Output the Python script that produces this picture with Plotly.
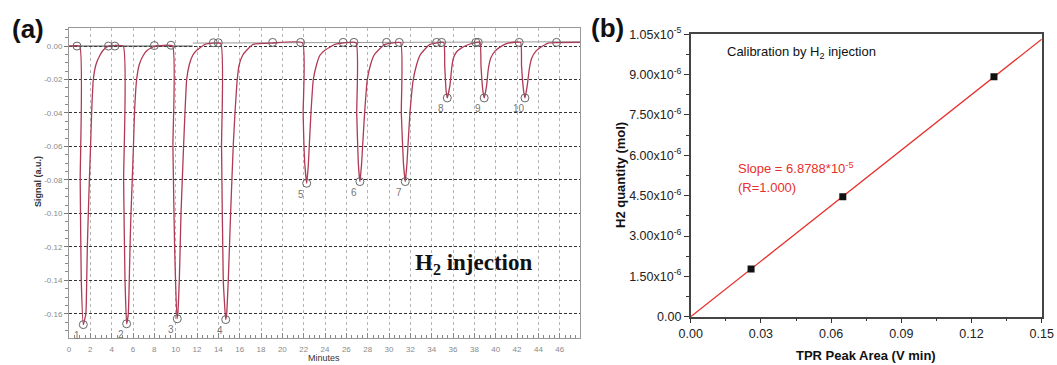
import plotly.graph_objects as go

# ---------------- Panel (a): TPR signal vs time ----------------
# signal trace (minutes, a.u.)
trace_t = [0.0,
           1.00, 1.05, 1.15, 1.34, 1.58, 1.66, 1.72, 1.81, 1.91, 2.02, 2.12, 2.28, 2.53, 2.90, 3.20, 3.70,
           5.08, 5.12, 5.25, 5.40, 5.56, 5.65, 5.72, 5.81, 5.93, 6.04, 6.14, 6.34, 6.59, 6.97, 7.34, 8.06,
           9.70, 9.74, 9.90, 10.12, 10.20, 10.34, 10.42, 10.50, 10.62, 10.74, 10.87, 11.03, 11.28, 11.60, 11.97, 12.75,
           14.22, 14.30, 14.46, 14.69, 14.78, 14.93, 15.04, 15.15, 15.27, 15.40, 15.56, 15.77, 15.96, 16.28, 16.65, 17.27, 19.00,
           21.88, 21.95, 22.10, 22.28, 22.43, 22.52, 22.68, 22.90, 23.21, 23.52, 23.99, 24.93,
           26.90, 26.97, 27.12, 27.27, 27.43, 27.52, 27.71, 27.96, 28.27, 28.59, 28.99, 29.61,
           31.08, 31.15, 31.35, 31.52, 31.68, 31.77, 31.96, 32.27, 32.59, 32.90, 33.27, 33.83,
           35.12, 35.22, 35.35, 35.46, 35.71, 35.87, 36.02, 36.34, 36.80, 37.27, 37.90,
           38.52, 38.62, 38.80, 38.92, 39.15, 39.30, 39.52, 39.93, 40.55, 41.17,
           42.33, 42.42, 42.62, 42.74, 42.96, 43.14, 43.36, 43.77, 44.40, 44.92,
           47.90]
trace_v = [0.0,
           0.0, -0.080, -0.140, -0.1665, -0.160, -0.140, -0.120, -0.100, -0.080, -0.060, -0.040, -0.020, -0.011, -0.0055, -0.0025, 0.0,
           0.0, -0.080, -0.140, -0.1660, -0.160, -0.140, -0.120, -0.100, -0.080, -0.060, -0.040, -0.020, -0.011, -0.0055, -0.0025, 0.0,
           0.0, -0.060, -0.120, -0.1630, -0.160, -0.140, -0.120, -0.100, -0.080, -0.060, -0.040, -0.020, -0.011, -0.0055, -0.0025, 0.001,
           0.0015, -0.060, -0.140, -0.1635, -0.160, -0.140, -0.120, -0.100, -0.080, -0.059, -0.040, -0.020, -0.011, -0.0055, -0.0025, 0.001, 0.0018,
           0.002, -0.040, -0.070, -0.082, -0.0714, -0.060, -0.040, -0.020, -0.011, -0.0055, -0.0025, 0.001,
           0.002, -0.040, -0.070, -0.081, -0.070, -0.060, -0.040, -0.020, -0.011, -0.0055, -0.0025, 0.001,
           0.002, -0.040, -0.070, -0.081, -0.070, -0.060, -0.040, -0.020, -0.011, -0.0055, -0.0025, 0.001,
           0.0022, -0.012, -0.027, -0.031, -0.0234, -0.0134, -0.0074, -0.0034, -0.0011, 0.0005, 0.0018,
           0.0022, -0.012, -0.027, -0.031, -0.0234, -0.014, -0.0074, -0.003, 0.0, 0.0018,
           0.0022, -0.012, -0.027, -0.031, -0.0234, -0.014, -0.0074, -0.003, 0.0, 0.0018,
           0.0022]

# integration baseline
base1_t = [0.0, 11.6]
base1_v = [0.0, 0.0]
base2_t = [11.6, 47.9]
base2_v = [0.0018, 0.0026]

# peak start / end markers
edge_t = [0.75, 3.70, 4.30, 8.00, 9.56, 13.53, 13.99, 19.09, 21.71, 25.70, 26.71,
          29.77, 30.96, 34.46, 34.93, 38.14, 38.36, 42.20, 45.70]
edge_v = [0.0, 0.0, 0.0, 0.0003, 0.0005, 0.0020, 0.0020, 0.0022, 0.0022, 0.0022, 0.0022,
          0.0022, 0.0022, 0.0022, 0.0022, 0.0022, 0.0022, 0.0022, 0.0022]

# peak minima
peak_t = [1.34, 5.40, 10.15, 14.69, 22.28, 27.27, 31.52, 35.46, 38.92, 42.74]
peak_v = [-0.1665, -0.1660, -0.1630, -0.1635, -0.0820, -0.0810, -0.0810, -0.0310, -0.0310, -0.0310]
peak_labels = ["1", "2", "3", "4", "5", "6", "7", "8", "9", "10"]

a_yticks = [0.0, -0.02, -0.04, -0.06, -0.08, -0.10, -0.12, -0.14, -0.16]
a_yticklabels = ["0.00", "-0.02", "-0.04", "-0.06", "-0.08", "-0.10", "-0.12", "-0.14", "-0.16"]

# ---------------- Panel (b): calibration ----------------
area = [0.0258, 0.0650, 0.1296]
h2_mol = [1.77e-6, 4.46e-6, 8.92e-6]
fit_x = [0.0, 0.15]
fit_y = [0.0, 1.0318e-5]

b_yticks = [0.0, 1.5e-6, 3.0e-6, 4.5e-6, 6.0e-6, 7.5e-6, 9.0e-6, 1.05e-5]
b_yticklabels = ["0.00", "1.50x10<sup>-6</sup>", "3.00x10<sup>-6</sup>", "4.50x10<sup>-6</sup>",
                 "6.00x10<sup>-6</sup>", "7.50x10<sup>-6</sup>", "9.00x10<sup>-6</sup>",
                 "1.05x10<sup>-5</sup>"]
b_xticks = [0.0, 0.03, 0.06, 0.09, 0.12, 0.15]
b_xticklabels = ["0.00", "0.03", "0.06", "0.09", "0.12", "0.15"]

W, H = 1057, 365
SANS = "Liberation Sans, Arial, sans-serif"

def px_x(p):
    return p / W

def px_y(p):
    return 1 - p / H

fig = go.Figure()

fig.add_trace(go.Scatter(x=base1_t, y=base1_v, mode="lines", xaxis="x", yaxis="y",
                         line=dict(color="#444444", width=1), showlegend=False))
fig.add_trace(go.Scatter(x=base2_t, y=base2_v, mode="lines", xaxis="x", yaxis="y",
                         line=dict(color="#9a9a9a", width=1), showlegend=False))
fig.add_trace(go.Scatter(x=trace_t, y=trace_v, mode="lines", xaxis="x", yaxis="y",
                         line=dict(color="#b03a55", width=1.3, shape="spline", smoothing=0.4),
                         showlegend=False))
fig.add_trace(go.Scatter(x=edge_t, y=edge_v, mode="markers", xaxis="x", yaxis="y",
                         marker=dict(symbol="circle-open", size=8, color="#666666", line=dict(width=1)),
                         showlegend=False))
fig.add_trace(go.Scatter(x=peak_t, y=peak_v, mode="markers", xaxis="x", yaxis="y",
                         marker=dict(symbol="circle-open", size=8, color="#666666", line=dict(width=1)),
                         showlegend=False))

fig.add_trace(go.Scatter(x=fit_x, y=fit_y, mode="lines", xaxis="x2", yaxis="y2",
                         line=dict(color="#e8302c", width=1.3), showlegend=False))
fig.add_trace(go.Scatter(x=area, y=h2_mol, mode="markers", xaxis="x2", yaxis="y2",
                         marker=dict(symbol="square", size=7, color="#111111"), showlegend=False))

annotations = []
for t, v, lab in zip(peak_t, peak_v, peak_labels):
    annotations.append(dict(x=t, y=v, xref="x", yref="y", text=lab, showarrow=False,
                            xanchor="center", yanchor="middle",
                            xshift=-6, yshift=-11, font=dict(family=SANS, size=10, color="#777777")))

def note(x, y, text, size, color="#111111", family=SANS, xanchor="center", angle=0):
    return dict(x=px_x(x), y=px_y(y), xref="paper", yref="paper", text=text, showarrow=False,
                xanchor=xanchor, yanchor="middle", textangle=angle,
                font=dict(family=family, size=size, color=color))

annotations += [
    note(28, 29, "<b>(a)</b>", 26),
    note(607, 28, "<b>(b)</b>", 26),
    note(473, 264, "<b>H<sub>2</sub> injection</b>", 23,
         family="Liberation Serif, Times New Roman, serif"),
    note(38, 182, "<b>Signal (a.u.)</b>", 9, color="#333333", angle=-90),
    note(324, 358, "Minutes", 9, color="#333333"),
    note(725, 53, "Calibration by H<sub>2</sub> injection", 13, xanchor="left"),
    note(736, 168, "Slope = 6.8788*10<sup>-5</sup>", 13, color="#e8302c", xanchor="left"),
    note(736, 187, "(R=1.000)", 13, color="#e8302c", xanchor="left"),
    note(621, 175, "<b>H2 quantity (mol)</b>", 13, angle=-90),
    note(866, 355, "<b>TPR Peak Area (V min)</b>", 13),
]

fig.update_layout(
    width=W, height=H,
    margin=dict(l=0, r=0, t=0, b=0, autoexpand=False),
    paper_bgcolor="white", plot_bgcolor="white",
    font=dict(family=SANS),
    annotations=annotations,
    xaxis=dict(domain=[px_x(69), px_x(580)], range=[0, 47.9], anchor="y", automargin=False,
               tickmode="linear", tick0=0, dtick=2, ticks="inside", ticklen=5,
               tickcolor="#888888", tickfont=dict(size=8, color="#8a8a8a"),
               ticklabelstandoff=3,
               showline=True, linecolor="#999999", linewidth=1, mirror=True,
               showgrid=True, gridcolor="#b5b5b5", griddash="dot", gridwidth=1,
               zeroline=False,
               minor=dict(dtick=0.5, tick0=0, ticks="inside", ticklen=3, tickcolor="#888888",
                          showgrid=False)),
    yaxis=dict(domain=[px_y(338), px_y(28)], range=[-0.1745, 0.0108], anchor="x", automargin=False,
               tickmode="array", tickvals=a_yticks, ticktext=a_yticklabels,
               ticks="outside", ticklen=4, tickcolor="#777777",
               tickfont=dict(size=8, color="#8a8a8a"),
               showline=True, linecolor="#999999", linewidth=1, mirror=True,
               showgrid=True, gridcolor="#333333", griddash="3px,2px", gridwidth=1,
               zeroline=False,
               minor=dict(dtick=0.005, tick0=0, ticks="outside", ticklen=3, tickcolor="#888888",
                          showgrid=False)),
    xaxis2=dict(domain=[px_x(690.7), px_x(1041.7)], range=[0, 0.15], anchor="y2", automargin=False,
                tickmode="array", tickvals=b_xticks, ticktext=b_xticklabels,
                ticks="outside", ticklen=5, tickcolor="#333333",
                tickfont=dict(size=12.5, color="#222222"),
                showline=True, linecolor="#444444", linewidth=1.5, mirror=True,
                showgrid=False, zeroline=False,
                minor=dict(dtick=0.015, tick0=0, ticks="outside", ticklen=3, tickcolor="#333333")),
    yaxis2=dict(domain=[px_y(316.7), px_y(34.3)], range=[0, 1.05e-5], anchor="x2", automargin=False,
                tickmode="array", tickvals=b_yticks, ticktext=b_yticklabels,
                ticks="outside", ticklen=5, tickcolor="#333333",
                tickfont=dict(size=12.5, color="#222222"),
                showline=True, linecolor="#444444", linewidth=1.5, mirror=True,
                showgrid=False, zeroline=False,
                minor=dict(dtick=0.75e-6, tick0=0, ticks="outside", ticklen=3, tickcolor="#333333")),
)

fig.write_html("out.html")
